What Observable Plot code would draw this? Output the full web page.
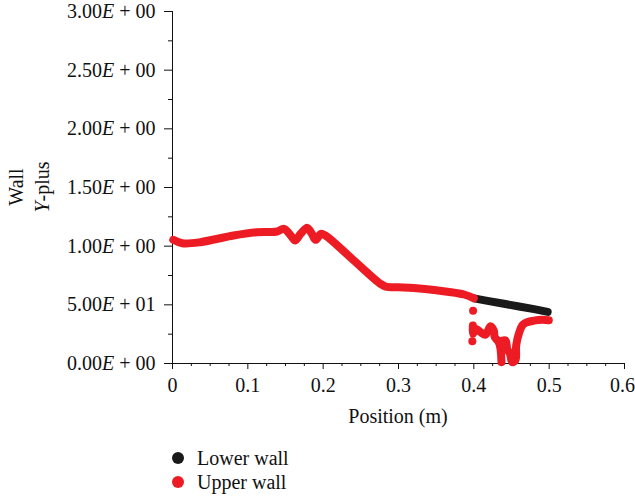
<!DOCTYPE html>
<html>
<head>
<meta charset="utf-8">
<script src="https://cdn.jsdelivr.net/npm/d3@7"></script>
<script src="https://cdn.jsdelivr.net/npm/@observablehq/plot@0.6"></script>
<style>
  body { margin: 0; background: #fff; font-family: "Liberation Serif", serif; }
  #legend { padding-top: 11px; padding-left: 172px; font-size: 20px; color: #111; }
  .row { display: flex; align-items: center; height: 24px; }
  .sw { width: 12px; height: 12px; border-radius: 50%; margin-right: 13px; }
</style>
</head>
<body>
<div id="chart"></div>
<div id="legend"></div>
<script>
// ---- data ----
const seriesNames = ["Lower wall", "Upper wall"];
const seriesColors = ["#1a1a1a", "#ed1c24"];

const lowerX = [0.402, 0.42, 0.44, 0.46, 0.48, 0.498];
const lowerY = [0.553, 0.532, 0.509, 0.486, 0.463, 0.44];

// upper wall, main curve
const upperMainX = [0.001, 0.013, 0.037, 0.081, 0.112, 0.139, 0.148, 0.157, 0.163, 0.170, 0.179, 0.185, 0.190, 0.197, 0.203, 0.236, 0.276, 0.283, 0.300, 0.320, 0.350, 0.365, 0.387, 0.400];
const upperMainY = [1.054, 1.025, 1.034, 1.091, 1.119, 1.125, 1.148, 1.091, 1.048, 1.105, 1.156, 1.105, 1.054, 1.105, 1.091, 0.906, 0.679, 0.656, 0.650, 0.643, 0.625, 0.612, 0.588, 0.556];

// upper wall, scattered part near the outlet
const upperWiggleX = [0.3987, 0.3987, 0.4022, 0.4089, 0.4155, 0.4221, 0.4265, 0.4278, 0.4332, 0.4354, 0.4367];
const upperWiggleY = [0.324, 0.253, 0.296, 0.267, 0.245, 0.318, 0.281, 0.224, 0.182, 0.125, 0.011];

const upperTailX = [0.4332, 0.442, 0.4443, 0.448, 0.451, 0.4553, 0.4562, 0.4597, 0.465, 0.4708, 0.4796, 0.4907, 0.4995];
const upperTailY = [0.182, 0.196, 0.125, 0.08, 0.011, 0.03, 0.153, 0.253, 0.33, 0.352, 0.365, 0.372, 0.368];

const upperDotX = [0.399, 0.398];
const upperDotY = [0.45, 0.19];

// axes
const xTicks = [0, 0.1, 0.2, 0.3, 0.4, 0.5, 0.6];
const xTickLabels = ["0", "0.1", "0.2", "0.3", "0.4", "0.5", "0.6"];
const xMinor = [0.025, 0.05, 0.075, 0.125, 0.15, 0.175, 0.225, 0.25, 0.275, 0.325, 0.35, 0.375, 0.425, 0.45, 0.475, 0.525, 0.55, 0.575];
const yTicks = [0, 0.5, 1, 1.5, 2, 2.5, 3];
const yTickLabels = ["0.00E + 00", "5.00E + 01", "1.00E + 00", "1.50E + 00", "2.00E + 00", "2.50E + 00", "3.00E + 00"];
const yMinor = [0.25, 0.75, 1.25, 1.75, 2.25, 2.75];
const xLabel = "Position (m)";
const yLabelLines = ["Wall", "Y-plus"];

// ---- build tables ----
const lower = lowerX.map((x, i) => ({x, y: lowerY[i]}));
const upperLines = [
  ...upperMainX.map((x, i) => ({x, y: upperMainY[i], seg: "main"})),
  ...upperWiggleX.map((x, i) => ({x, y: upperWiggleY[i], seg: "wiggle"})),
  ...upperTailX.map((x, i) => ({x, y: upperTailY[i], seg: "tail"}))
];
const upperDots = upperDotX.map((x, i) => ({x, y: upperDotY[i]}));

const sw = 8;
const plot = Plot.plot({
  width: 635,
  height: 435,
  marginLeft: 172,
  marginRight: 11,
  marginTop: 11,
  marginBottom: 72,
  style: {fontFamily: "Liberation Serif, serif", fontSize: "20px", color: "#111", background: "#fff"},
  x: {domain: [0, 0.6]},
  y: {domain: [0, 3]},
  marks: [
    Plot.axisX(xMinor, {tickSize: 3, tickFormat: () => "", label: null}),
    Plot.axisX(xTicks, {tickSize: 6, tickPadding: 8, tickFormat: (d, i) => xTickLabels[i], label: null}),
    Plot.axisY(yMinor, {tickSize: 4, tickFormat: () => "", label: null}),
    Plot.axisY(yTicks, {tickSize: 8, tickPadding: 9, tickFormat: (d, i) => yTickLabels[i], label: null}),
    Plot.frame({anchor: "left", stroke: "#111"}),
    Plot.frame({anchor: "bottom", stroke: "#111"}),
    Plot.line(lower, {x: "x", y: "y", stroke: seriesColors[0], strokeWidth: sw, strokeLinecap: "round", strokeLinejoin: "round"}),
    Plot.line(upperLines, {x: "x", y: "y", z: "seg", stroke: seriesColors[1], strokeWidth: sw, strokeLinecap: "round", strokeLinejoin: "round", curve: "catmull-rom"}),
    Plot.dot(upperDots, {x: "x", y: "y", r: 4, fill: seriesColors[1]})
  ]
});
document.getElementById("chart").appendChild(plot);

const svg = d3.select(plot.tagName === "svg" ? plot : plot.querySelector("svg"));

// italic E in y tick labels
svg.selectAll('g[aria-label="y-axis tick label"] text').each(function () {
  const t = d3.select(this);
  const s = t.text();
  const k = s.indexOf("E");
  if (k < 0) return;
  t.text(null);
  t.append("tspan").text(s.slice(0, k));
  t.append("tspan").attr("font-style", "italic").text("E");
  t.append("tspan").text(s.slice(k + 1));
});

// keep the last x tick label inside the window
svg.selectAll('g[aria-label="x-axis tick label"] text').each(function () {
  if (d3.select(this).text() === xTickLabels[xTickLabels.length - 1]) {
    d3.select(this).attr("dx", -2);
  }
});

// x label
svg.append("text")
  .attr("x", (172 + 624) / 2).attr("y", 423)
  .attr("text-anchor", "middle")
  .attr("font-family", "Liberation Serif, serif").attr("font-size", 20).attr("fill", "#111")
  .text(xLabel);

// two-line rotated y label with italic Y
const midY = (11 + 363) / 2;
svg.append("text")
  .attr("transform", `translate(16,${midY}) rotate(-90)`)
  .attr("text-anchor", "middle").attr("dy", "0.35em")
  .attr("font-family", "Liberation Serif, serif").attr("font-size", 20).attr("fill", "#111")
  .text(yLabelLines[0]);
const lab2 = svg.append("text")
  .attr("transform", `translate(42,${midY}) rotate(-90)`)
  .attr("text-anchor", "middle").attr("dy", "0.35em")
  .attr("font-family", "Liberation Serif, serif").attr("font-size", 20).attr("fill", "#111");
lab2.append("tspan").attr("font-style", "italic").text(yLabelLines[1].slice(0, 1));
lab2.append("tspan").text(yLabelLines[1].slice(1));

// legend
const leg = d3.select("#legend");
seriesNames.forEach((n, i) => {
  const r = leg.append("div").attr("class", "row");
  r.append("div").attr("class", "sw").style("background", seriesColors[i]);
  r.append("span").text(n);
});
</script>
</body>
</html>
